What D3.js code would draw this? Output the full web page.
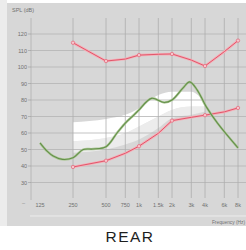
<!DOCTYPE html>
<html><head><meta charset="utf-8">
<script src="https://cdn.jsdelivr.net/npm/d3@7"></script>
<style>html,body{margin:0;padding:0;background:#fff;}svg{display:block;}</style>
</head><body>
<script>
const freqTicks = [250,500,750,1000,1500,2000,3000,4000,6000,8000];
const freqLabelF = [125,250,500,750,1000,1500,2000,3000,4000,6000,8000];
const freqLabels = ["125","250","500","750","1k","1.5k","2k","3k","4k","6k","8k"];
const dbTicks = [30,40,50,60,70,80,90,100,110,120];

const redFreqs = [250,500,750,1000,1500,2000,3000,4000,6000,8000];
const uclValues = [114.7,103.6,104.8,107.2,107.7,107.9,104.2,100.6,109.3,116];
const thrValues = [39.4,43.2,47.7,52,59.8,67.5,69.5,70.8,72.8,75.2];
const markFreqs = [250,500,1000,2000,4000,8000];

const greenFreqs = [125,145,165,200,250,310,380,500,630,750,900,1000,1300,1700,2000,2500,2900,3400,4100,5200,8000];
const greenValues = [54,49,46,44,45,50,50.3,51.7,60,66,71,74,81,78.5,80,87,91,86,76,66,51];

const bandFreqs = [250,500,750,1000,1500,2000,3000,4000];
const bandTop = [66.5,68.5,71,75,83,85,85,78];
const bandMid = [55,57,60,64,70,74,76,76];
const bandLow = [48,50,53,56,63,69,71,73];

const W=246,H=250;
const svg=d3.select("body").append("svg").attr("width",W).attr("height",H);
const x=d3.scaleLog().domain([125,8000]).range([40,238]);
const y=d3.scaleLinear().domain([30,120]).range([182.5,34]);

// panel
svg.append("rect").attr("x",0).attr("y",0).attr("width",7).attr("height",226).attr("fill","#ececec");
svg.append("rect").attr("x",7).attr("y",3).attr("width",W-7).attr("height",223).attr("fill","#d7d7d7");

// bands
const area=(lo,hi)=>d3.area().x((d,i)=>x(bandFreqs[i])).y0((d,i)=>y(lo[i])).y1((d,i)=>y(hi[i])).curve(d3.curveMonotoneX);
svg.append("path").datum(bandFreqs).attr("d",area(bandLow,bandMid)).attr("fill","#ececec");
svg.append("path").datum(bandFreqs).attr("d",area(bandMid,bandTop)).attr("fill","#ffffff");

// grid
const g=svg.append("g");
g.selectAll(".h").data(dbTicks).enter().append("line")
  .attr("x1",31).attr("x2",W).attr("y1",d=>y(d)).attr("y2",d=>y(d))
  .attr("stroke","#b4b4b4").attr("stroke-width",0.8);
g.selectAll(".v").data(freqTicks).enter().append("line")
  .attr("x1",d=>x(d)).attr("x2",d=>x(d)).attr("y1",18).attr("y2",198)
  .attr("stroke","#adadad").attr("stroke-width",0.8);
g.append("line").attr("x1",31).attr("x2",31).attr("y1",18).attr("y2",200).attr("stroke","#b0b0b0").attr("stroke-width",0.8);
g.append("line").attr("x1",30).attr("x2",W).attr("y1",216).attr("y2",216).attr("stroke","#ececec").attr("stroke-width",1);

// y labels
g.selectAll(".yl").data(dbTicks).enter().append("text")
  .attr("x",27).attr("y",d=>y(d)+2).attr("text-anchor","end")
  .attr("font-family","Liberation Sans, Arial, sans-serif").attr("font-size",5.5).attr("fill","#707070")
  .text(d=>d);
g.selectAll(".yt").data(dbTicks).enter().append("line")
  .attr("x1",28).attr("x2",31).attr("y1",d=>y(d)).attr("y2",d=>y(d)).attr("stroke","#999").attr("stroke-width",0.6);
svg.append("text").attr("x",12).attr("y",12).attr("font-family","Liberation Sans, Arial, sans-serif")
  .attr("font-size",5.5).attr("fill","#707070").text("SPL (dB)");
svg.append("text").attr("x",22).attr("y",205).attr("font-family","Liberation Sans, Arial, sans-serif")
  .attr("font-size",5.5).attr("fill","#8a8a8a").text("–");

// x labels
g.selectAll(".xl").data(freqLabelF).enter().append("text")
  .attr("x",d=>x(d)).attr("y",207).attr("text-anchor","middle")
  .attr("font-family","Liberation Sans, Arial, sans-serif").attr("font-size",5.5).attr("fill","#707070")
  .text((d,i)=>freqLabels[i]);
svg.append("text").attr("x",245).attr("y",224).attr("text-anchor","end")
  .attr("font-family","Liberation Sans, Arial, sans-serif").attr("font-size",4.8).attr("fill","#707070")
  .text("Frequency (Hz)");

// lines
const line=(fs,vs)=>d3.line().x((d,i)=>x(fs[i])).y((d,i)=>y(vs[i]));
function redLine(vals){
  svg.append("path").datum(redFreqs).attr("d",line(redFreqs,vals)).attr("fill","none")
    .attr("stroke","#f4b0b8").attr("stroke-width",2.6).attr("stroke-linejoin","round");
  svg.append("path").datum(redFreqs).attr("d",line(redFreqs,vals)).attr("fill","none")
    .attr("stroke","#e2566b").attr("stroke-width",1).attr("stroke-linejoin","round");
  svg.selectAll(null).data(markFreqs).enter().append("circle")
    .attr("cx",d=>x(d)).attr("cy",d=>y(vals[redFreqs.indexOf(d)])).attr("r",1.7)
    .attr("fill","#f6c6cc").attr("stroke","#e2566b").attr("stroke-width",0.6);
}
redLine(uclValues);
redLine(thrValues);

const gl=d3.line().x((d,i)=>x(greenFreqs[i])).y((d,i)=>y(greenValues[i])).curve(d3.curveCatmullRom);
svg.append("path").datum(greenFreqs).attr("d",gl).attr("fill","none")
  .attr("stroke","#adc797").attr("stroke-width",2.4);
svg.append("path").datum(greenFreqs).attr("d",gl).attr("fill","none")
  .attr("stroke","#64904a").attr("stroke-width",1.1);

// title
svg.append("text").attr("x",130).attr("y",242).attr("text-anchor","middle")
  .attr("font-family","Liberation Sans, Arial, sans-serif").attr("font-size",15.5)
  .attr("letter-spacing",1.5).attr("fill","#1e1e1e").text("REAR");
</script>
</body></html>
